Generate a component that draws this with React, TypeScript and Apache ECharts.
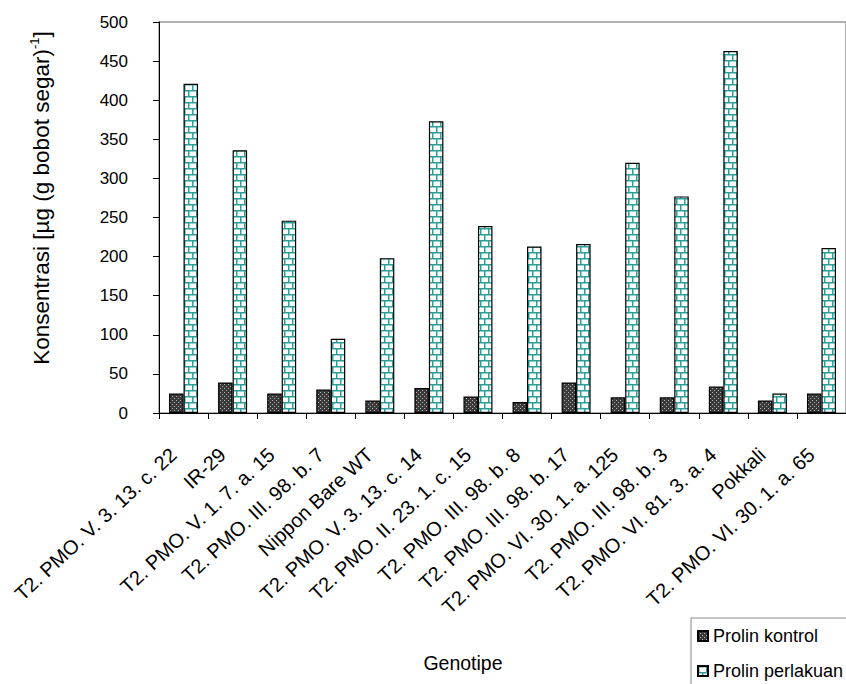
import React, { useEffect, useRef } from "react";
import * as echarts from "echarts";

const categories = [
  "T2. PMO. V. 3. 13. c. 22",
  "IR-29",
  "T2. PMO. V. 1. 7. a. 15",
  "T2. PMO. III. 98. b. 7",
  "Nippon Bare WT",
  "T2. PMO. V. 3. 13. c. 14",
  "T2. PMO. II. 23. 1. c. 15",
  "T2. PMO. III. 98. b. 8",
  "T2. PMO. III. 98. b. 17",
  "T2. PMO. VI. 30. 1. a. 125",
  "T2. PMO. III. 98. b. 3",
  "T2. PMO. VI. 81. 3. a. 4",
  "Pokkali",
  "T2. PMO. VI. 30. 1. a. 65",
];
const prolinKontrol = [25, 39, 25, 30, 16, 32, 21, 14, 39, 20, 20, 34, 16, 25];
const prolinPerlakuan = [421, 336, 246, 95, 198, 373, 239, 213, 216, 320, 277, 463, 25, 211];
const seriesNames = ["Prolin kontrol", "Prolin perlakuan"];
const yTicks = { min: 0, max: 500, interval: 50 };

const FONT = "'Liberation Sans', Arial, sans-serif";

function dotPattern(): HTMLCanvasElement {
  const c = document.createElement("canvas");
  c.width = 4;
  c.height = 4;
  const g = c.getContext("2d")!;
  g.fillStyle = "#3a3a3a";
  g.fillRect(0, 0, 4, 4);
  g.fillStyle = "#b4b4b4";
  g.fillRect(0, 0, 1, 1);
  g.fillRect(2, 2, 1, 1);
  return c;
}

function brickPattern(): HTMLCanvasElement {
  const c = document.createElement("canvas");
  c.width = 8;
  c.height = 12;
  const g = c.getContext("2d")!;
  g.fillStyle = "#ffffff";
  g.fillRect(0, 0, 8, 12);
  g.fillStyle = "#2e9e98";
  g.fillRect(0, 0, 8, 1.5);
  g.fillRect(0, 6, 8, 1.5);
  g.fillRect(0, 0, 1.5, 6);
  g.fillRect(4, 6, 1.5, 6);
  return c;
}

export default function App() {
  const ref = useRef<HTMLDivElement>(null);
  useEffect(() => {
    if (!ref.current) return;
    const chart = echarts.init(ref.current, undefined, { renderer: "svg" });
    const dots = { image: dotPattern(), repeat: "repeat" } as any;
    const bricks = { image: brickPattern(), repeat: "repeat" } as any;
    chart.setOption({
      animation: false,
      backgroundColor: "#ffffff",
      textStyle: { fontFamily: FONT },
      grid: {
        left: 159,
        top: 22,
        right: -10,
        bottom: 271,
        show: true,
        borderColor: "#999999",
        borderWidth: 1.5,
      },
      legend: {
        orient: "vertical",
        left: 691,
        top: 618,
        height: 120,
        borderColor: "#888888",
        borderWidth: 1,
        padding: [9, 60, 14, 6],
        itemWidth: 10,
        itemHeight: 10,
        itemGap: 17,
        icon: "rect",
        textStyle: { fontSize: 18, color: "#000", fontFamily: FONT },
        data: seriesNames,
      },
      xAxis: {
        type: "category",
        data: categories,
        axisLine: { lineStyle: { color: "#000", width: 1 } },
        axisTick: { show: true, length: 6, lineStyle: { color: "#000" } },
        axisLabel: {
          interval: 0,
          rotate: 43,
          margin: 29,
          padding: [0, 14, 0, 0],
          fontSize: 20,
          color: "#000",
          fontFamily: FONT,
        },
      },
      yAxis: {
        type: "value",
        min: yTicks.min,
        max: yTicks.max,
        interval: yTicks.interval,
        axisLine: { show: true, lineStyle: { color: "#000", width: 1 } },
        axisTick: { show: true, length: 6, lineStyle: { color: "#000" } },
        splitLine: { show: false },
        axisLabel: { margin: 31, fontSize: 17, color: "#000", fontFamily: FONT },
      },
      graphic: [
        {
          type: "text",
          x: 41,
          y: 198,
          rotation: Math.PI / 2,
          style: {
            text: "{a|Konsentrasi [µg (g bobot segar)}{s|-1}{a|]}",
            align: "center",
            verticalAlign: "middle",
            fill: "#000",
            rich: {
              a: { fontSize: 22.5, fontFamily: FONT, lineHeight: 26, fill: "#000" },
              s: { fontSize: 13, fontFamily: FONT, lineHeight: 13, verticalAlign: "top", fill: "#000" },
            },
          },
        },
        {
          type: "text",
          x: 463,
          y: 663,
          style: {
            text: "Genotipe",
            align: "center",
            verticalAlign: "middle",
            fontSize: 19.5,
            fontFamily: FONT,
            fill: "#000",
          },
        },
      ],
      series: [
        {
          name: seriesNames[0],
          type: "bar",
          data: prolinKontrol,
          barWidth: 14.5,
          barGap: "0%",
          itemStyle: { color: dots, borderColor: "#000", borderWidth: 1.2 },
        },
        {
          name: seriesNames[1],
          type: "bar",
          data: prolinPerlakuan,
          barWidth: 14.5,
          barGap: "0%",
          itemStyle: { color: bricks, borderColor: "#000", borderWidth: 1.2 },
        },
      ],
    });
    return () => chart.dispose();
  }, []);
  return (
    <div
      ref={ref}
      style={{ position: "absolute", left: 0, top: 0, width: 846, height: 684 }}
    />
  );
}
